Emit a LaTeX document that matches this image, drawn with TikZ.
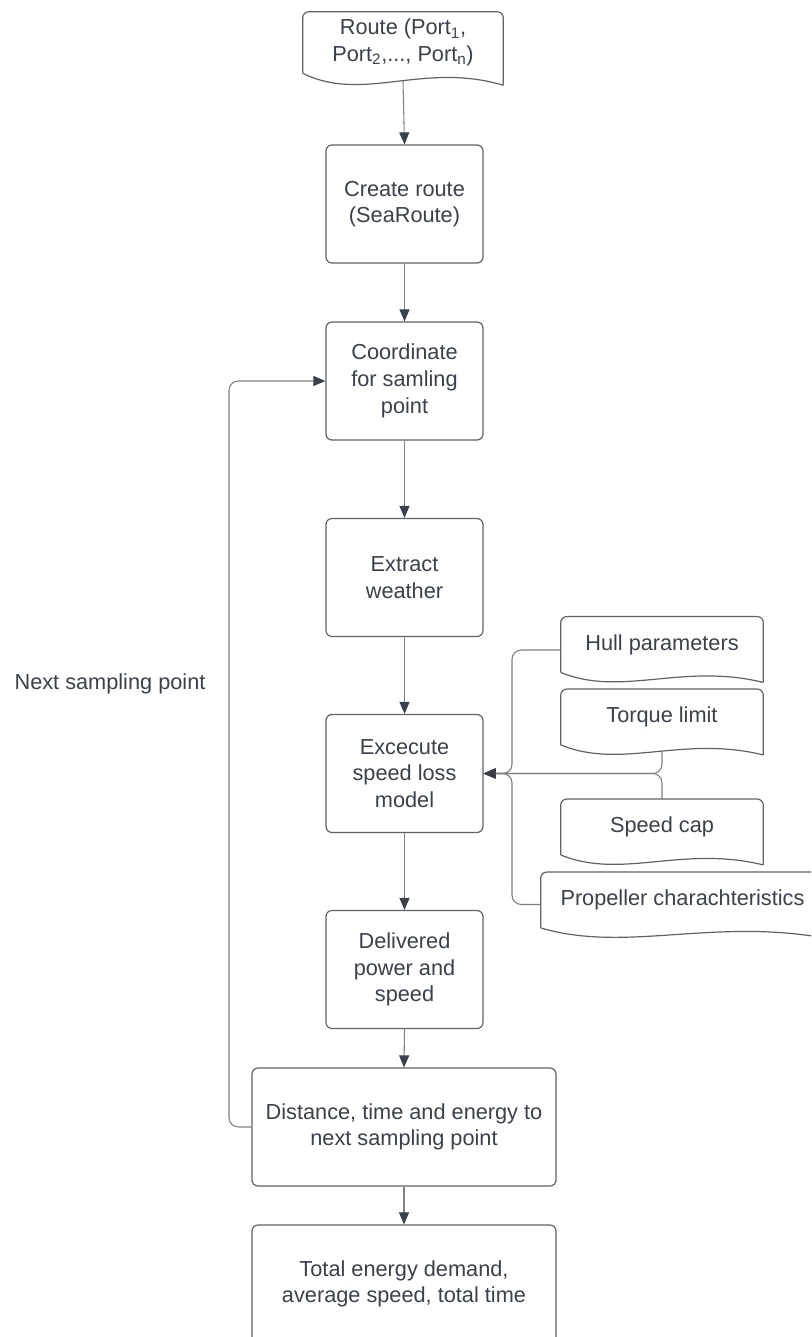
\documentclass[tikz,border=0pt]{standalone}
\usepackage{fontspec}
\setmainfont{Liberation Sans}
\usetikzlibrary{arrows.meta,calc}
\definecolor{txt}{RGB}{58,65,74}
\definecolor{boxc}{RGB}{95,99,104}
\definecolor{linec}{RGB}{128,128,128}
\definecolor{tipc}{RGB}{58,65,74}
\newcommand\mydoc[2]{%
  \draw[boxline, rounded corners=4.5pt] (#1.south west) -- (#1.north west) -- (#1.north east) -- ($(#1.south east)+(0,#2)$);
  \draw[boxline] (#1.south west) .. controls ($(#1.south west)!0.3!(#1.south east)+(0,2.5*#2)$) and ($(#1.south west)!0.6!(#1.south east)+(0,-#2)$) .. ($(#1.south east)+(0,#2)$);}
\tikzset{
  boxline/.style={draw=boxc, line width=0.9pt},
  base/.style={inner sep=0pt, align=center, text=txt, font=\fontsize{16.3}{20}\selectfont},
  procbox/.style={base, boxline, rounded corners=4.5pt, minimum width=117.75pt, minimum height=88.5pt},
  widebox/.style={base, boxline, rounded corners=4.5pt, minimum width=228pt, minimum height=88.5pt},
  docbox/.style={base, minimum width=151.5pt, minimum height=41.5pt},
  conn/.style={draw=linec, line width=0.8pt, -{Triangle[length=9pt,width=7.5pt,color=tipc]}},
  feed/.style={draw=linec, line width=0.8pt, rounded corners=7pt}
}
\begin{document}
\begin{tikzpicture}[x=0.75pt, y=-0.75pt]
\path[use as bounding box, clip] (0,0) rectangle (811,1337);
\fill[white] (0,0) rectangle (811,1337);
% documents
\node[base, minimum width=150pt, minimum height=45.75pt] (route) at (403,42.5) {Route (Port\textsubscript{1},\\Port\textsubscript{2},..., Port\textsubscript{n})};
\mydoc{route}{12}
\node[docbox] (hull) at (662,644.5) {Hull parameters};
\mydoc{hull}{10}
\node[docbox] (torque) at (662,717) {Torque limit};
\mydoc{torque}{10}
\node[docbox] (speed) at (662,827) {Speed cap};
\mydoc{speed}{10}
\node[docbox, minimum width=212.25pt] (prop) at (682.5,900) {Propeller charachteristics};
\mydoc{prop}{10}
% process boxes
\node[procbox] (create) at (404.5,204) {Create route\\(SeaRoute)};
\node[procbox] (coord) at (404.5,381) {Coordinate\\for samling\\point};
\node[procbox] (weather) at (404.5,577.5) {Extract\\weather};
\node[procbox] (exec) at (404.5,773.5) {Excecute\\speed loss\\model};
\node[procbox] (deliv) at (404.5,969.5) {Delivered\\power and\\speed};
\node[widebox] (dist) at (404,1127) {Distance, time and energy to\\next sampling point};
\node[widebox] (total) at (404,1284) {Total energy demand,\\average speed, total time};
\node[base] (nextlbl) at (110,684) {Next sampling point};
% coordinates
\coordinate (routeb) at ($(route.south)+(0,8)$);
\coordinate (torqueb) at ($(torque.south)+(0,7)$);
\coordinate (hullw) at ($(hull.west)+(0,5.5)$);
\coordinate (propw) at ($(prop.west)+(0,4.5)$);
% main flow
\draw[conn] (routeb) -- (create.north);
\draw[conn] (create.south) -- (coord.north);
\draw[conn] (coord.south) -- (weather.north);
\draw[conn] (weather.south) -- (exec.north);
\draw[conn] (exec.south) -- (deliv.north);
\draw[conn] (deliv.south) -- (dist.north);
\draw[conn] (dist.south) -- (total.north);
% feedback loop
\draw[conn, rounded corners=7pt] (dist.west) -- (229,1127) -- (229,381) -- (coord.west);
% inputs
\draw[conn, rounded corners=7pt] (hullw) -- (512,650) -- (512,773.5) -- (exec.east);
\draw[conn, rounded corners=7pt] (propw) -- (512,904.5) -- (512,773.5) -- (exec.east);
\draw[conn, rounded corners=7pt] (torqueb) -- (662,773.5) -- (exec.east);
\draw[conn, rounded corners=7pt] (speed.north) -- (662,773.5) -- (exec.east);
\end{tikzpicture}
\end{document}
